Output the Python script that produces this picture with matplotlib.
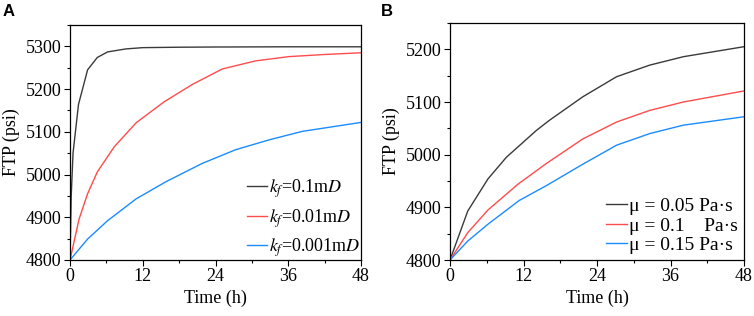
import matplotlib
matplotlib.use("Agg")
import matplotlib.pyplot as plt
from matplotlib.ticker import MultipleLocator

plt.rcParams['font.family'] = ['Liberation Serif', 'DejaVu Serif']
plt.rcParams['mathtext.fontset'] = 'stix'

# Panel A data
a_t_k01 = [0, 0.2, 0.5, 1.4, 2.9, 4.5, 6.2, 9.2, 12, 18, 24, 36, 48]
a_y_k01 = [4800, 4950, 5050, 5164, 5245, 5274, 5287, 5294, 5297, 5298, 5298.5, 5299, 5299]
a_t_k001 = [0, 1.5, 2.9, 4.5, 7.3, 10.9, 15.5, 20.2, 25.1, 30.6, 36.1, 42, 48]
a_y_k001 = [4800, 4896, 4955, 5006, 5065, 5121, 5170, 5211, 5247, 5266, 5276, 5281, 5285]
a_t_k0001 = [0, 2.9, 6.2, 10.9, 15.8, 21.8, 27.3, 32.8, 38.3, 48]
a_y_k0001 = [4800, 4849, 4892, 4943, 4983, 5026, 5058, 5081, 5101, 5122]
a_labels = [r'$k_f$=0.1m$D$', r'$k_f$=0.01m$D$', r'$k_f$=0.001m$D$']

# Panel B data
b_t_mu005 = [0, 2.9, 6.2, 9.2, 14.1, 16.2, 21.7, 27.2, 32.6, 38.1, 48]
b_y_mu005 = [4800, 4893, 4954, 4995, 5046, 5065, 5110, 5148, 5170, 5186, 5205]
b_t_mu01 = [0, 2.9, 6.2, 11.1, 15.7, 21.7, 27.2, 32.6, 38.1, 48]
b_y_mu01 = [4800, 4852, 4895, 4944, 4983, 5030, 5062, 5084, 5100, 5121]
b_t_mu015 = [0, 2.9, 6.2, 11.3, 15.7, 21.7, 27.2, 32.6, 38.1, 48]
b_y_mu015 = [4800, 4836, 4868, 4913, 4941, 4982, 5018, 5040, 5056, 5072]
b_labels = ['\u03bc = 0.05 Pa\u00b7s', '\u03bc = 0.1    Pa\u00b7s', '\u03bc = 0.15 Pa\u00b7s']

x_ticks = [0, 12, 24, 36, 48]

colors = ['#3a3a3a', '#ff4c4c', '#1a8cff']

fig = plt.figure(figsize=(7.54, 3.16), dpi=100)
axA = fig.add_axes([70/754, 1-260/316, 291/754, 235/316])
axB = fig.add_axes([450/754, 1-260/316, 294/754, 237/316])

def style(ax, ylim, yticks):
    ax.set_xlim(0, 48)
    ax.set_ylim(*ylim)
    ax.set_xticks(x_ticks)
    ax.set_yticks(yticks)
    ax.xaxis.set_minor_locator(MultipleLocator(6))
    ax.yaxis.set_minor_locator(MultipleLocator(50))
    ax.tick_params(which='major', direction='out', length=4, width=0.8, labelsize=13, pad=2)
    ax.tick_params(which='minor', direction='out', length=2.5, width=0.8)
    for s in ax.spines.values():
        s.set_linewidth(0.9)
    ax.set_xlabel('Time (h)', fontsize=13, labelpad=3)
    ax.set_ylabel('FTP (psi)', fontsize=13, labelpad=4)

axA.plot(a_t_k01, a_y_k01, color=colors[0], lw=1.0, label=a_labels[0])
axA.plot(a_t_k001, a_y_k001, color=colors[1], lw=1.0, label=a_labels[1])
axA.plot(a_t_k0001, a_y_k0001, color=colors[2], lw=1.0, label=a_labels[2])
style(axA, (4800, 5350), [4800, 4900, 5000, 5100, 5200, 5300])
axA.legend(loc='lower right', frameon=False, fontsize=13, handlelength=1.1,
           handletextpad=0.1, labelspacing=0.38, borderaxespad=0.0, borderpad=0.05)

axB.plot(b_t_mu005, b_y_mu005, color=colors[0], lw=1.0, label=b_labels[0])
axB.plot(b_t_mu01, b_y_mu01, color=colors[1], lw=1.0, label=b_labels[1])
axB.plot(b_t_mu015, b_y_mu015, color=colors[2], lw=1.0, label=b_labels[2])
style(axB, (4800, 5250), [4800, 4900, 5000, 5100, 5200])
axB.legend(loc='lower right', frameon=False, fontsize=14, handlelength=1.1,
           handletextpad=0.1, labelspacing=0.1, borderaxespad=0.25, borderpad=0.05)

fig.text(3/754, 1-4/316, 'A', fontsize=12, fontweight='bold', family='Liberation Sans', va='top', ha='left')
fig.text(381/754, 1-4/316, 'B', fontsize=12, fontweight='bold', family='Liberation Sans', va='top', ha='left')

fig.savefig('out.png', dpi=100)
